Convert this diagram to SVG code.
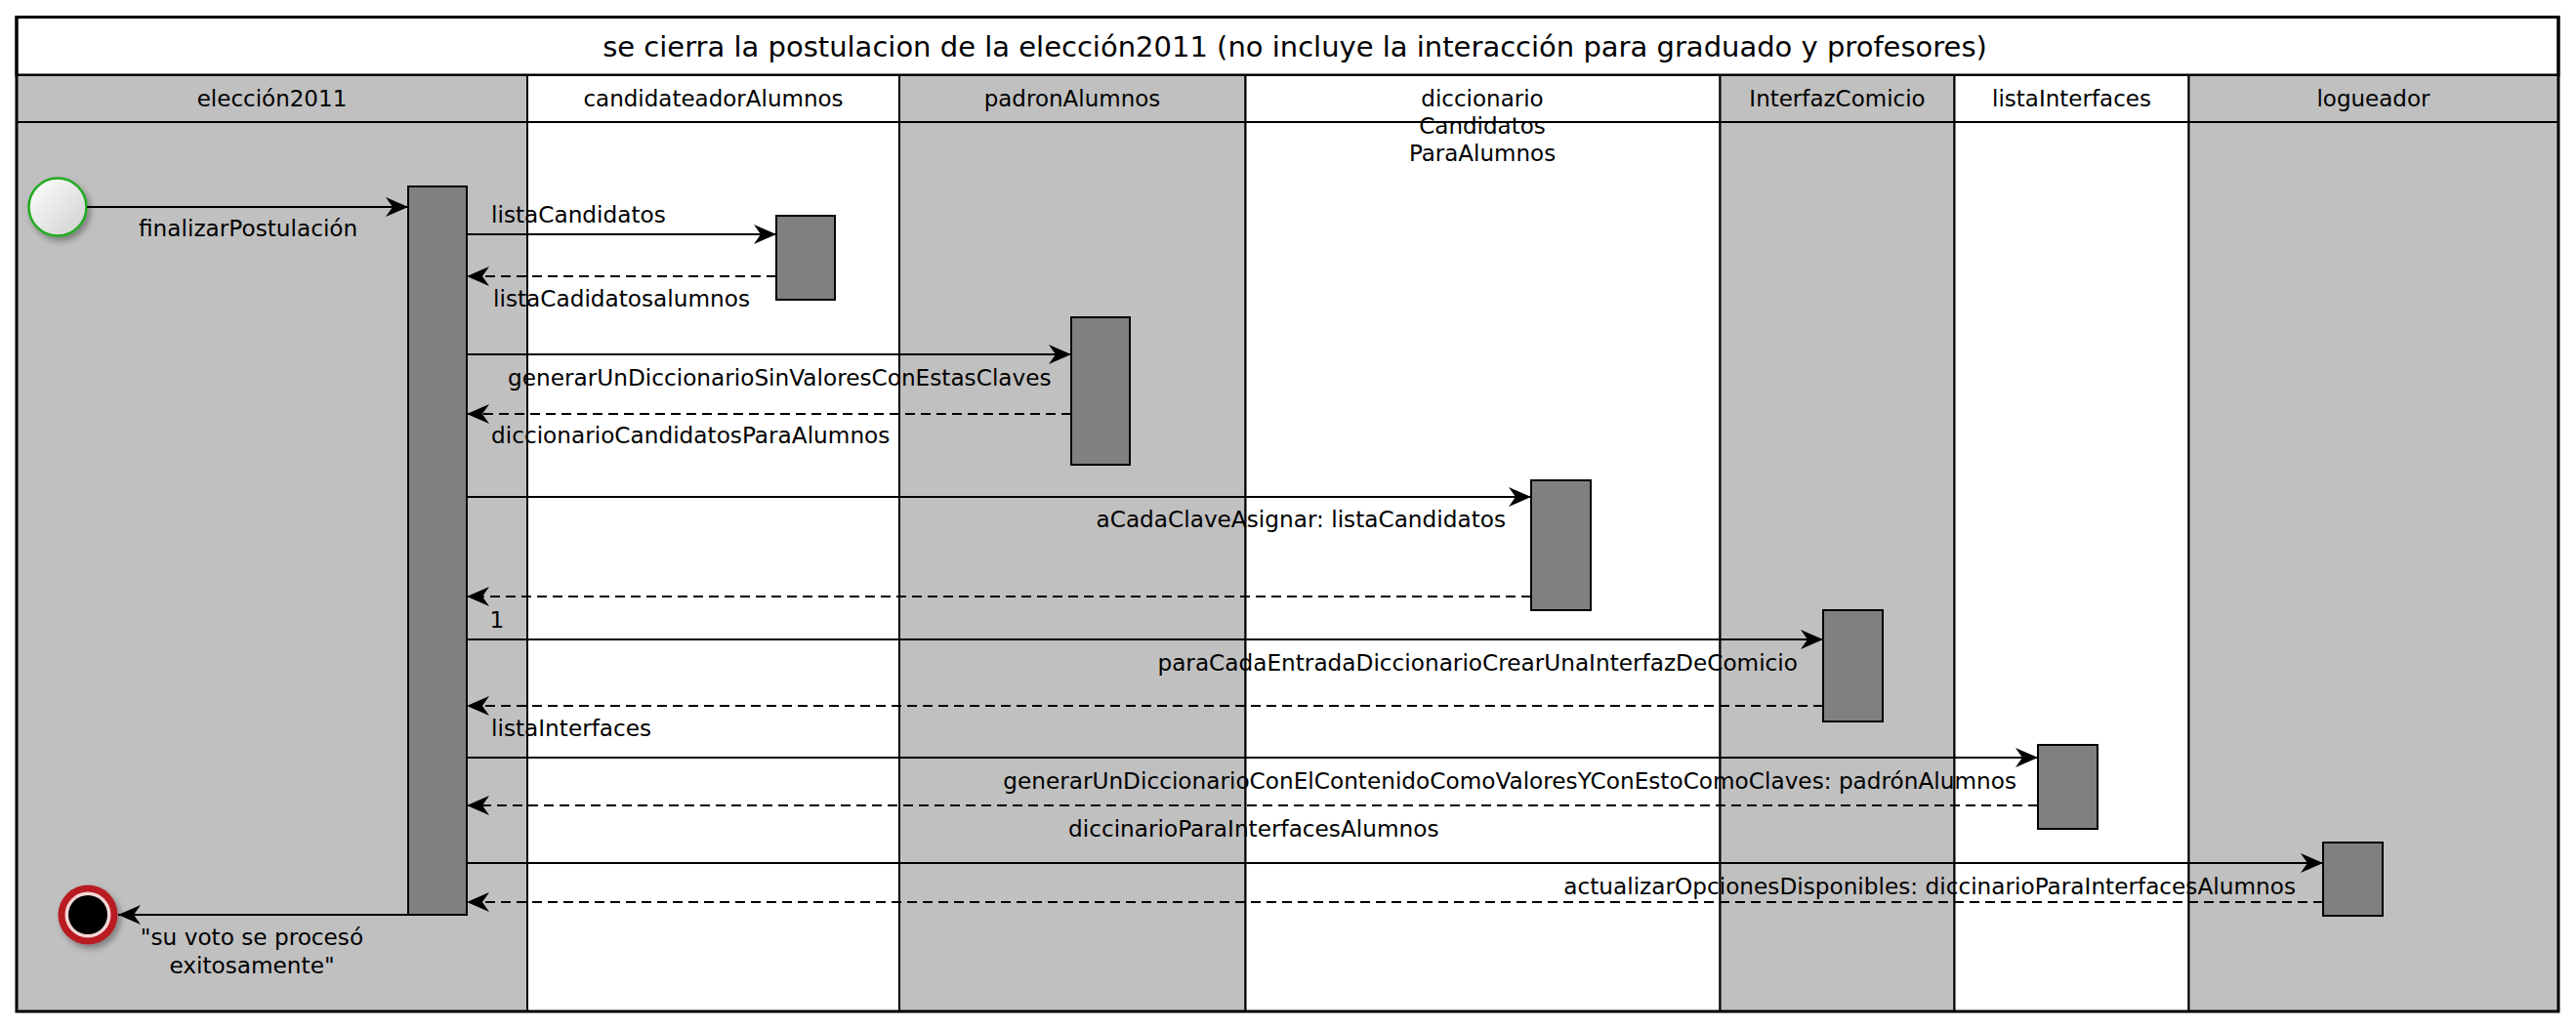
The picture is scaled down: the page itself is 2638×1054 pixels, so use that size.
<svg xmlns="http://www.w3.org/2000/svg" width="2638" height="1054" viewBox="0 0 2638 1054">
<style>
text{font-family:"DejaVu Sans","Liberation Sans",sans-serif;fill:#000}
.lbl{font-size:23.2px}
.hdr{font-size:23px}
.ttl{font-size:29px}
.gray{fill:#c0c0c0;stroke:#000;stroke-width:2}
.white{fill:#fff;stroke:#000;stroke-width:2}
.hl{stroke:#000;stroke-width:2}
.act{fill:#808080;stroke:#000;stroke-width:2}
.msg{stroke:#000;stroke-width:2;fill:none;marker-end:url(#ah)}
.ret{stroke:#000;stroke-width:2;fill:none;stroke-dasharray:10 6;marker-end:url(#ah)}
</style>
<defs>
<marker id="ah" viewBox="-24 -11 25 22" refX="0" refY="0" markerWidth="25" markerHeight="22" markerUnits="userSpaceOnUse" orient="auto">
<path d="M0,0 L-23,-10 L-16,0 L-23,10 Z" fill="#000"/>
</marker>
<linearGradient id="sg" x1="0" y1="0" x2="1" y2="1">
<stop offset="0" stop-color="#ffffff"/>
<stop offset="1" stop-color="#cfcfcf"/>
</linearGradient>
<filter id="sh" x="-50%" y="-50%" width="200%" height="200%">
<feDropShadow dx="3" dy="4" stdDeviation="3" flood-color="#000" flood-opacity="0.35"/>
</filter>
</defs>
<rect x="0" y="0" width="2638" height="1054" fill="#fff"/>
<g id="frame">
<rect x="17" y="17.5" width="2603" height="59.5" fill="#fff" stroke="#000" stroke-width="3"/>
<text class="ttl" x="1326" y="58" text-anchor="middle">se cierra la postulacion de la elección2011 (no incluye la interacción para graduado y profesores)</text>
</g>
<g id="lane-eleccion2011">
<rect class="gray" x="17" y="77" width="523" height="959"/>
<line class="hl" x1="17" y1="125" x2="540" y2="125"/>
<text class="hdr" x="278.5" y="109" text-anchor="middle">elección2011</text>
</g>
<g id="lane-candidateadorAlumnos">
<rect class="white" x="540" y="77" width="381" height="959"/>
<line class="hl" x1="540" y1="125" x2="921" y2="125"/>
<text class="hdr" x="730.5" y="109" text-anchor="middle">candidateadorAlumnos</text>
</g>
<g id="lane-padronAlumnos">
<rect class="gray" x="921" y="77" width="354.5" height="959"/>
<line class="hl" x1="921" y1="125" x2="1275.5" y2="125"/>
<text class="hdr" x="1098" y="109" text-anchor="middle">padronAlumnos</text>
</g>
<g id="lane-diccionario">
<rect class="white" x="1275.5" y="77" width="486" height="959"/>
<line class="hl" x1="1275.5" y1="125" x2="1761.5" y2="125"/>
<text class="hdr" x="1518" y="109" text-anchor="middle">diccionario</text>
<text class="hdr" x="1518" y="137" text-anchor="middle">Candidatos</text>
<text class="hdr" x="1518" y="165" text-anchor="middle">ParaAlumnos</text>
</g>
<g id="lane-InterfazComicio">
<rect class="gray" x="1761.5" y="77" width="240" height="959"/>
<line class="hl" x1="1761.5" y1="125" x2="2001.5" y2="125"/>
<text class="hdr" x="1881.5" y="109" text-anchor="middle">InterfazComicio</text>
</g>
<g id="lane-listaInterfaces">
<rect class="white" x="2001.5" y="77" width="240" height="959"/>
<line class="hl" x1="2001.5" y1="125" x2="2241.5" y2="125"/>
<text class="hdr" x="2121.5" y="109" text-anchor="middle">listaInterfaces</text>
</g>
<g id="lane-logueador">
<rect class="gray" x="2241.5" y="77" width="378.5" height="959"/>
<line class="hl" x1="2241.5" y1="125" x2="2620" y2="125"/>
<text class="hdr" x="2430.5" y="109" text-anchor="middle">logueador</text>
</g>
<rect x="17" y="17.5" width="2603" height="1018.5" fill="none" stroke="#000" stroke-width="3"/>
<g id="start">
<circle cx="59" cy="212" r="29.5" fill="url(#sg)" stroke="#22aa22" stroke-width="2.5" filter="url(#sh)"/>
</g>
<g id="end">
<g filter="url(#sh)">
<circle cx="90" cy="937" r="30.5" fill="#b81e24"/>
<circle cx="90" cy="937" r="23.5" fill="#f3d6d6"/>
<circle cx="90" cy="937" r="20" fill="#000"/>
</g>
</g>
<g id="activations">
<rect id="act-eleccion" class="act" x="418" y="191" width="60" height="746"/>
<rect id="act-candidateador" class="act" x="795" y="221" width="60" height="86"/>
<rect id="act-padron" class="act" x="1097" y="325" width="60" height="151"/>
<rect id="act-diccionario" class="act" x="1568" y="492" width="61" height="133"/>
<rect id="act-interfaz" class="act" x="1867" y="625" width="61" height="114"/>
<rect id="act-lista" class="act" x="2087" y="763" width="61" height="86"/>
<rect id="act-logueador" class="act" x="2379" y="863" width="61" height="75"/>
</g>
<g id="connectors">
<line class="msg" x1="89" y1="212" x2="418" y2="212"/>
<line class="msg" x1="478" y1="240" x2="795" y2="240"/>
<line class="ret" x1="795" y1="283" x2="478" y2="283"/>
<line class="msg" x1="478" y1="363" x2="1097" y2="363"/>
<line class="ret" x1="1097" y1="424" x2="478" y2="424"/>
<line class="msg" x1="478" y1="509" x2="1568" y2="509"/>
<line class="ret" x1="1568" y1="611" x2="478" y2="611"/>
<line class="msg" x1="478" y1="655" x2="1867" y2="655"/>
<line class="ret" x1="1867" y1="723" x2="478" y2="723"/>
<line class="msg" x1="478" y1="776" x2="2087" y2="776"/>
<line class="ret" x1="2087" y1="825" x2="478" y2="825"/>
<line class="msg" x1="478" y1="884" x2="2379" y2="884"/>
<line class="ret" x1="2379" y1="924" x2="478" y2="924"/>
<line class="msg" x1="418" y1="937" x2="121" y2="937"/>
</g>
<g id="labels">
<text class="lbl" x="142" y="242">finalizarPostulación</text>
<text class="lbl" x="503" y="228">listaCandidatos</text>
<text class="lbl" x="505" y="314">listaCadidatosalumnos</text>
<text class="lbl" x="520" y="395">generarUnDiccionarioSinValoresConEstasClaves</text>
<text class="lbl" x="503" y="454">diccionarioCandidatosParaAlumnos</text>
<text class="lbl" x="1542" y="540" text-anchor="end">aCadaClaveAsignar: listaCandidatos</text>
<text class="lbl" x="509" y="643" text-anchor="middle">1</text>
<text class="lbl" x="1841" y="687" text-anchor="end">paraCadaEntradaDiccionarioCrearUnaInterfazDeComicio</text>
<text class="lbl" x="503" y="754">listaInterfaces</text>
<text class="lbl" x="2065" y="808" text-anchor="end">generarUnDiccionarioConElContenidoComoValoresYConEstoComoClaves: padrónAlumnos</text>
<text class="lbl" x="1094" y="857">diccinarioParaInterfacesAlumnos</text>
<text class="lbl" x="2351" y="916" text-anchor="end">actualizarOpcionesDisponibles: diccinarioParaInterfacesAlumnos</text>
<text class="lbl" x="258" y="968" text-anchor="middle">"su voto se procesó</text>
<text class="lbl" x="258" y="997" text-anchor="middle">exitosamente"</text>
</g>
</svg>
